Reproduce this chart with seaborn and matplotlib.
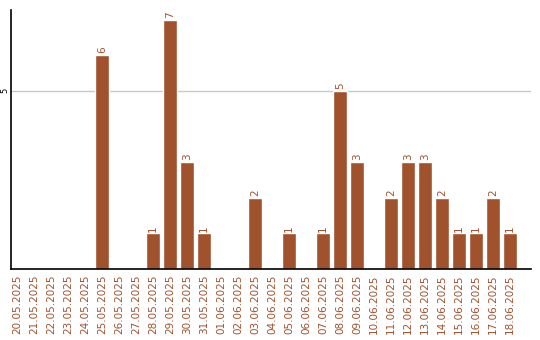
import matplotlib
matplotlib.use("Agg")
import matplotlib.pyplot as plt
import seaborn as sns
import pandas as pd

dates = ["20.05.2025", "21.05.2025", "22.05.2025", "23.05.2025", "24.05.2025",
         "25.05.2025", "26.05.2025", "27.05.2025", "28.05.2025", "29.05.2025",
         "30.05.2025", "31.05.2025", "01.06.2025", "02.06.2025", "03.06.2025",
         "04.06.2025", "05.06.2025", "06.06.2025", "07.06.2025", "08.06.2025",
         "09.06.2025", "10.06.2025", "11.06.2025", "12.06.2025", "13.06.2025",
         "14.06.2025", "15.06.2025", "16.06.2025", "17.06.2025", "18.06.2025"]
values = [0, 0, 0, 0, 0, 6, 0, 0, 1, 7, 3, 1, 0, 0, 2,
          0, 1, 0, 1, 5, 3, 0, 2, 3, 3, 2, 1, 1, 2, 1]
yticks = [5]

color = "#A0522D"
sns.set_theme(style="white")
plt.rcParams['font.family'] = ['DejaVu Sans']

df = pd.DataFrame({"date": dates, "value": values})
fig = plt.figure(figsize=(5.4, 3.4), dpi=100)
ax = fig.add_axes([11/540, 71/340, 520/540, 259/340])
sns.barplot(data=df, x="date", y="value", color=color, saturation=1, width=0.82, ax=ax, zorder=2)

ax.set_xlim(-0.35, 30.24)
ax.set_ylim(0, 7.27)
ax.set_yticks(yticks)
ax.set_yticklabels([str(t) for t in yticks], rotation=90, va="center", fontsize=6, color="black")
ax.yaxis.grid(True, color="#c8c8c8", linewidth=1, zorder=0)
ax.set_axisbelow(True)
ax.tick_params(axis="y", length=0, pad=1)
ax.tick_params(axis="x", length=0, pad=4)
ax.set_xticks(range(len(dates)))
ax.set_xticklabels(dates, rotation=90, fontsize=7.5, color=color)
ax.set_xlabel("")
ax.set_ylabel("")
for s in ["top", "right"]:
    ax.spines[s].set_visible(False)
for s in ["left", "bottom"]:
    ax.spines[s].set_color("black")
    ax.spines[s].set_linewidth(1.2)

for i, v in enumerate(values):
    if v > 0:
        ax.text(i, v + 0.05, str(v), rotation=90, ha="center", va="bottom",
                fontsize=7.5, color=color)

fig.savefig("out.png", dpi=100)
